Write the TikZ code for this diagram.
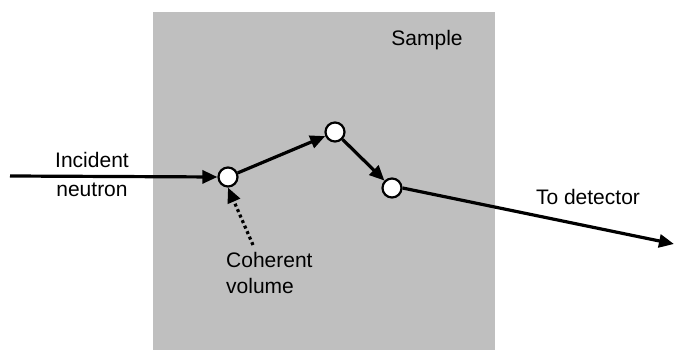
\documentclass[tikz,border=0pt]{standalone}
\usepackage{fontspec}
\setmainfont{Liberation Sans}
\usetikzlibrary{arrows.meta}
\begin{document}
\begin{tikzpicture}[x=1pt,y=-1pt,
  lbl/.style={font=\fontsize{21}{24}\selectfont, inner sep=0pt},
  site/.style={circle, draw=black, fill=white, line width=2.2pt, minimum size=19pt, inner sep=0pt},
  beam/.style={line width=3.2pt, -{Triangle[length=15pt,width=13pt]}},
  hint/.style={line width=3.2pt, dash pattern=on 3pt off 3pt, -{Triangle[length=15pt,width=13pt]}}]
\useasboundingbox (0,0) rectangle (675,350);
% sample block
\fill[gray!50] (153,12) rectangle (495,350);
\node[lbl] (sample) at (427,40) {Sample};
% scattering sites
\node[site] (s1) at (228,177) {};
\node[site] (s2) at (335,132) {};
\node[site] (s3) at (392,188) {};
\coordinate (src) at (10,176);
\coordinate (det) at (674,244);
\coordinate (hintstart) at (253,245);
% beam path
\draw[beam] (src) -- (s1.west);
\draw[beam] (s1) -- (s2);
\draw[beam] (s2) -- (s3);
\draw[beam] (s3.east) -- (det);
\draw[hint] (hintstart) -- (s1.south);
% labels
\node[lbl] (inc) at (92,160) {Incident};
\node[lbl] (neu) at (92,190) {neutron};
\node[lbl, anchor=west] (coh) at (226,260) {Coherent};
\node[lbl, anchor=west] (vol) at (226,286) {volume};
\node[lbl] (todet) at (588,197) {To detector};
\end{tikzpicture}
\end{document}
